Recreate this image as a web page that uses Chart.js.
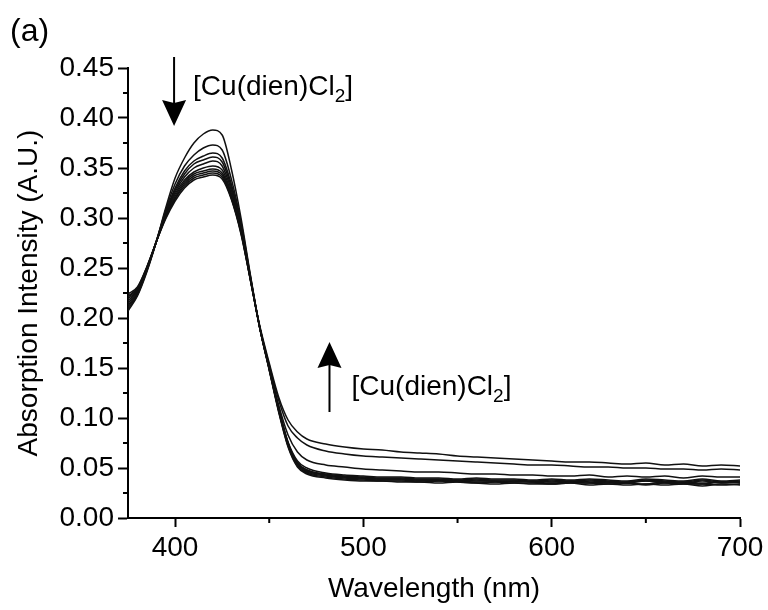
<!DOCTYPE html>
<html>
<head>
<meta charset="utf-8">
<script src="https://cdn.jsdelivr.net/npm/chart.js@4/dist/chart.umd.min.js"></script>
<style>
  html, body { margin: 0; padding: 0; background: #fff; }
  #wrap { width: 768px; height: 610px; }
</style>
</head>
<body>
<div id="wrap"><canvas id="myChart" width="768" height="610"></canvas></div>
<script>
// wavelengths (nm)
let wl = [375,380,385,390,395,400,405,410,415,420,425,
          430,435,440,445,450,455,460,465,470,480,490,
          500,510,520,530,540,550,560,570,580,590,600,610,620,630,640,650,660,670,680,690,700]

// absorption spectra, highest peak first (peak drops / tail rises with [Cu(dien)Cl2])
let s0 = [0.207,0.222,0.246,0.276,0.310,0.340,0.360,0.375,0.384,0.388,0.383,
          0.348,0.300,0.243,0.190,0.148,0.106,0.071,0.051,0.044,0.040,0.038,
          0.037,0.037,0.036,0.036,0.035,0.036,0.035,0.034,0.035,0.034,0.034,0.035,0.033,0.034,0.033,0.034,0.033,0.034,0.032,0.034,0.033]
let s1 = [0.209,0.223,0.247,0.276,0.308,0.334,0.352,0.363,0.370,0.373,0.368,
          0.338,0.296,0.242,0.190,0.148,0.107,0.072,0.052,0.045,0.041,0.039,
          0.038,0.037,0.037,0.036,0.037,0.036,0.035,0.036,0.035,0.035,0.034,0.035,0.035,0.034,0.035,0.033,0.035,0.034,0.034,0.033,0.034]
let s2 = [0.211,0.224,0.248,0.277,0.306,0.330,0.347,0.357,0.362,0.365,0.360,
          0.333,0.294,0.241,0.190,0.149,0.108,0.073,0.053,0.046,0.042,0.040,
          0.039,0.038,0.038,0.037,0.037,0.037,0.036,0.036,0.037,0.036,0.035,0.036,0.035,0.036,0.035,0.034,0.036,0.035,0.034,0.036,0.035]
let s3 = [0.213,0.225,0.248,0.276,0.305,0.328,0.344,0.354,0.358,0.361,0.356,
          0.330,0.292,0.240,0.190,0.149,0.108,0.074,0.054,0.047,0.043,0.041,
          0.040,0.039,0.039,0.038,0.038,0.037,0.038,0.037,0.037,0.036,0.037,0.036,0.037,0.036,0.035,0.037,0.036,0.035,0.037,0.035,0.036]
let s4 = [0.215,0.226,0.249,0.276,0.304,0.326,0.341,0.350,0.354,0.357,0.352,
          0.327,0.290,0.240,0.190,0.150,0.109,0.075,0.055,0.048,0.044,0.042,
          0.041,0.040,0.040,0.039,0.039,0.038,0.039,0.038,0.038,0.037,0.038,0.037,0.038,0.037,0.036,0.038,0.037,0.036,0.038,0.036,0.037]
let s5 = [0.217,0.227,0.249,0.276,0.303,0.324,0.338,0.346,0.350,0.352,0.348,
          0.324,0.288,0.239,0.190,0.150,0.109,0.075,0.055,0.048,0.043,0.041,
          0.040,0.039,0.039,0.038,0.038,0.038,0.037,0.037,0.036,0.037,0.036,0.037,0.036,0.035,0.036,0.037,0.035,0.036,0.035,0.036,0.036]
let s6 = [0.219,0.228,0.250,0.276,0.302,0.322,0.336,0.344,0.347,0.349,0.345,
          0.322,0.287,0.239,0.190,0.150,0.110,0.076,0.057,0.050,0.045,0.043,
          0.042,0.041,0.041,0.040,0.040,0.039,0.040,0.039,0.039,0.038,0.039,0.038,0.039,0.038,0.037,0.039,0.038,0.037,0.039,0.037,0.038]
let s7 = [0.221,0.229,0.250,0.276,0.301,0.320,0.334,0.342,0.345,0.347,0.343,
          0.320,0.286,0.238,0.190,0.151,0.113,0.083,0.066,0.058,0.053,0.051,
          0.049,0.048,0.047,0.046,0.046,0.045,0.044,0.044,0.043,0.043,0.042,0.042,0.043,0.041,0.042,0.041,0.042,0.040,0.042,0.041,0.041]
let s8 = [0.222,0.230,0.251,0.276,0.300,0.319,0.332,0.340,0.343,0.345,0.341,
          0.319,0.285,0.238,0.191,0.153,0.118,0.092,0.080,0.073,0.067,0.064,
          0.062,0.061,0.060,0.059,0.058,0.057,0.056,0.055,0.054,0.053,0.053,0.052,0.051,0.051,0.050,0.050,0.049,0.049,0.048,0.049,0.048]
let s9 = [0.224,0.231,0.251,0.276,0.299,0.317,0.330,0.338,0.341,0.343,0.339,
          0.318,0.284,0.238,0.192,0.155,0.121,0.098,0.086,0.079,0.074,0.071,
          0.069,0.068,0.066,0.065,0.064,0.062,0.061,0.060,0.059,0.058,0.057,0.056,0.056,0.055,0.054,0.055,0.053,0.054,0.052,0.053,0.052]

let xTicks = [400,500,600,700]
let xMinor = [450,550,650]
let yTicks = [0,0.05,0.10,0.15,0.20,0.25,0.30,0.35,0.40,0.45]
let yMinor = [0.025,0.075,0.125,0.175,0.225,0.275,0.325,0.375,0.425]

let FONT = "'Liberation Sans', Arial, sans-serif"
let spectra = [s0,s1,s2,s3,s4,s5,s6,s7,s8,s9]

let datasets = spectra.map(function(s){
    return {
        data : wl.map(function(w,i){ return {x:w, y:s[i]} }),
        borderColor : "#111",
        borderWidth : 1.5,
        pointRadius : 0,
        fill : false,
        cubicInterpolationMode : 'monotone'
    }
})

function drawLabel(ctx, x, y){
    ctx.font = "28px " + FONT
    ctx.textAlign = 'left'
    ctx.textBaseline = 'alphabetic'
    ctx.fillText("[Cu(dien)Cl", x, y)
    let w = ctx.measureText("[Cu(dien)Cl").width
    ctx.font = "19px " + FONT
    ctx.fillText("2", x + w, y + 7)
    let w2 = ctx.measureText("2").width
    ctx.font = "28px " + FONT
    ctx.fillText("]", x + w + w2, y)
}

function arrow(ctx, x, yFrom, yTo){
    let dir = yTo > yFrom ? 1 : -1
    let headLen = 23, headW = 12
    ctx.beginPath()
    ctx.moveTo(x, yFrom)
    ctx.lineTo(x, yTo - dir*headLen)
    ctx.lineWidth = 2
    ctx.stroke()
    ctx.beginPath()
    ctx.moveTo(x, yTo)
    ctx.lineTo(x - headW, yTo - dir*(headLen+3))
    ctx.lineTo(x, yTo - dir*headLen)
    ctx.lineTo(x + headW, yTo - dir*(headLen+3))
    ctx.closePath()
    ctx.fill()
}

let extras = {
    id : 'extras',
    afterDraw : function(chart){
        let ctx = chart.ctx
        let xs = chart.scales.x, ys = chart.scales.y
        ctx.save()
        ctx.strokeStyle = "#000"
        ctx.fillStyle = "#000"
        ctx.lineWidth = 2
        // minor ticks
        xMinor.forEach(function(v){
            let px = xs.getPixelForValue(v)
            ctx.beginPath()
            ctx.moveTo(px, ys.bottom)
            ctx.lineTo(px, ys.bottom + 5)
            ctx.stroke()
        })
        yMinor.forEach(function(v){
            let py = ys.getPixelForValue(v)
            ctx.beginPath()
            ctx.moveTo(xs.left, py)
            ctx.lineTo(xs.left - 5, py)
            ctx.stroke()
        })
        // arrows + labels
        let ax1 = xs.getPixelForValue(400)
        arrow(ctx, ax1 - 1, 57, 126)
        drawLabel(ctx, ax1 + 18, 95)
        let ax2 = xs.getPixelForValue(482)
        arrow(ctx, ax2, 412, 342)
        drawLabel(ctx, ax2 + 22, 395)
        // panel label
        ctx.font = "32px " + FONT
        ctx.textAlign = 'left'
        ctx.fillText("(a)", 10, 41)
        ctx.restore()
    }
}

let mychart = document.getElementById('myChart').getContext('2d')
let chart = new Chart(mychart,{
    type : 'line',
    data : { datasets : datasets },
    plugins : [extras],
    options : {
        responsive : false,
        animation : false,
        layout : { padding : { top : 68, right : 28, left : 0, bottom : 0 } },
        plugins : { legend : { display : false }, tooltip : { enabled : false } },
        scales : {
            x : {
                type : 'linear',
                min : 375, max : 700,
                afterBuildTicks : function(s){ s.ticks = xTicks.map(function(v){ return {value:v} }) },
                afterFit : function(s){ s.height = 92 },
                grid : { drawOnChartArea : false, drawTicks : true, tickLength : 9, tickColor : "#000", tickWidth : 2 },
                border : { color : "#000", width : 2 },
                ticks : { color : "#000", font : { family : FONT, size : 28 }, padding : 4, maxRotation : 0, autoSkip : false },
                title : { display : true, text : "Wavelength (nm)", color : "#000", font : { family : FONT, size : 28 }, padding : { bottom : 4 } }
            },
            y : {
                min : 0, max : 0.45,
                afterBuildTicks : function(s){ s.ticks = yTicks.map(function(v){ return {value:v} }) },
                afterFit : function(s){ s.width = 128 },
                grid : { drawOnChartArea : false, drawTicks : true, tickLength : 10, tickColor : "#000", tickWidth : 2 },
                border : { color : "#000", width : 2 },
                ticks : { color : "#000", font : { family : FONT, size : 28 }, padding : 4, autoSkip : false,
                          callback : function(v){ return Number(v).toFixed(2) } },
                title : { display : true, text : "Absorption Intensity (A.U.)", color : "#000", font : { family : FONT, size : 28 }, padding : { top : 12 } }
            }
        }
    }
})
</script>
</body>
</html>
